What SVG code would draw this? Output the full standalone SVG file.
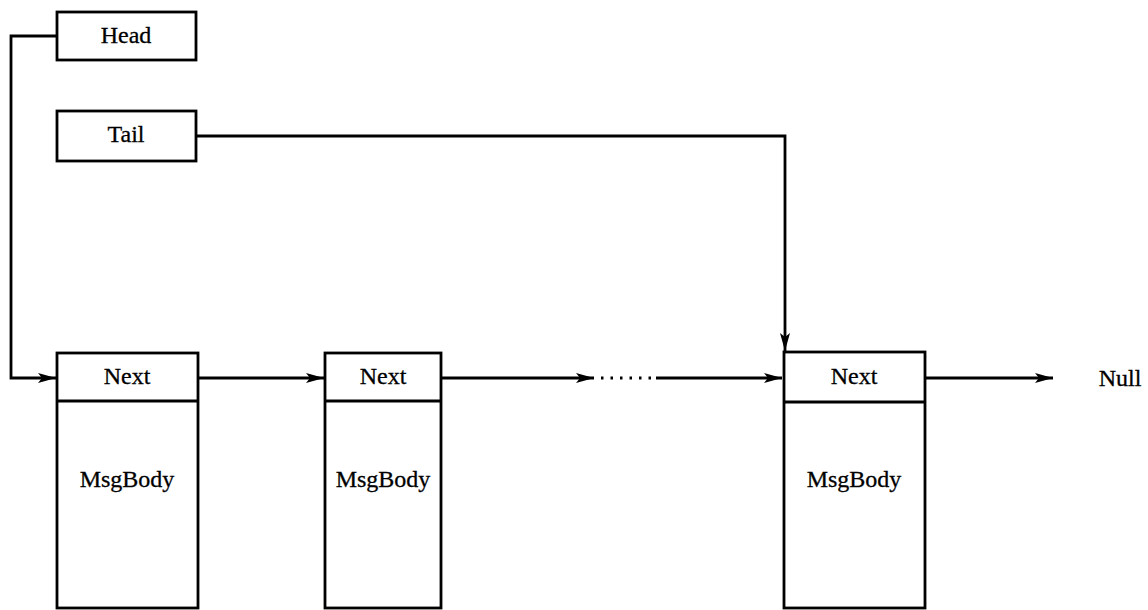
<svg xmlns="http://www.w3.org/2000/svg" width="1148" height="610" viewBox="0 0 1148 610">
<defs>
<style>
.box{fill:#fff;stroke:#000;stroke-width:2.8}
.ln{fill:none;stroke:#000;stroke-width:2.8}
.t{font-family:"Liberation Serif","Times New Roman",serif;font-size:24px;fill:#000;text-anchor:middle;stroke:#000;stroke-width:0.3}
</style>
<marker id="ah" markerWidth="20" markerHeight="12" refX="18" refY="6" orient="auto" markerUnits="userSpaceOnUse">
<path d="M0,1 L18,6 L0,11 L4,6 Z" fill="#000"/>
</marker>
</defs>
<rect width="1148" height="610" fill="#fff"/>
<g id="connectors">
<polyline class="ln" points="57,36 11,36 11,378 56,378" marker-end="url(#ah)"/>
<polyline class="ln" points="197,136 785,136 785,351" marker-end="url(#ah)"/>
<line class="ln" x1="198" y1="378" x2="324" y2="378" marker-end="url(#ah)"/>
<line class="ln" x1="441" y1="378" x2="594" y2="378" marker-end="url(#ah)"/>
<line class="ln" x1="601" y1="378" x2="652" y2="378" stroke-dasharray="2.5 7"/>
<line class="ln" x1="656" y1="378" x2="782" y2="378" marker-end="url(#ah)"/>
<line class="ln" x1="925" y1="378" x2="1053" y2="378" marker-end="url(#ah)"/>
</g>
<g id="head">
<rect class="box" x="57" y="12" width="139" height="48"/>
<text class="t" x="126" y="43">Head</text>
</g>
<g id="tail">
<rect class="box" x="57" y="111" width="139" height="50"/>
<text class="t" x="126" y="142">Tail</text>
</g>
<g id="node1">
<rect class="box" x="57" y="353" width="141" height="255"/>
<line class="ln" x1="57" y1="401" x2="198" y2="401"/>
<text class="t" x="127" y="384">Next</text>
<text class="t" x="127" y="487">MsgBody</text>
</g>
<g id="node2">
<rect class="box" x="325" y="353" width="116" height="255"/>
<line class="ln" x1="325" y1="401" x2="441" y2="401"/>
<text class="t" x="383" y="384">Next</text>
<text class="t" x="383" y="487">MsgBody</text>
</g>
<g id="node3">
<rect class="box" x="784" y="352" width="141" height="256"/>
<line class="ln" x1="784" y1="402" x2="925" y2="402"/>
<text class="t" x="854" y="384">Next</text>
<text class="t" x="854" y="487">MsgBody</text>
</g>
<g id="null">
<text class="t" x="1120" y="386">Null</text>
</g>
</svg>
